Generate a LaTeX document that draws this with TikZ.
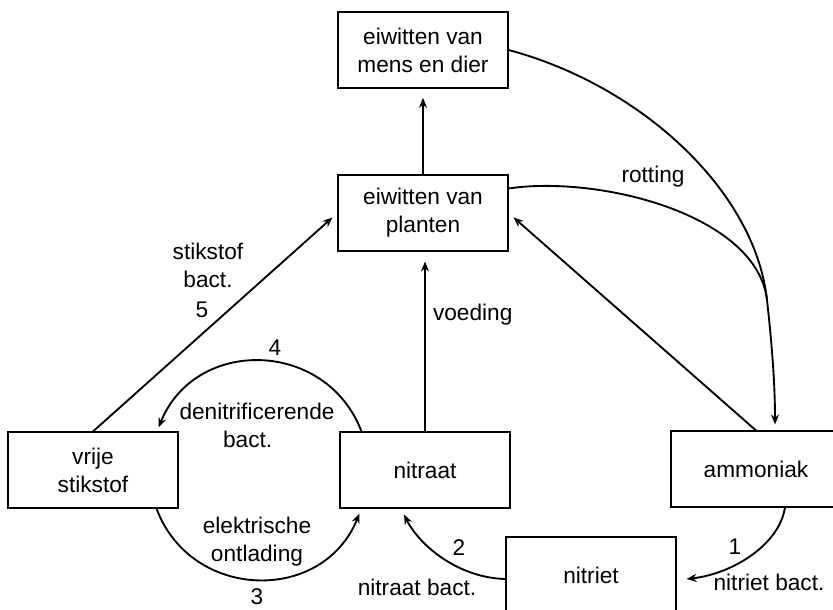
\documentclass[tikz,border=0pt]{standalone}
\usepackage{fontspec}
\setmainfont{Liberation Sans}
\usetikzlibrary{arrows.meta,calc}
\begin{document}
\begin{tikzpicture}[x=0.75pt,y=-0.75pt,line width=1.4pt,
>={Stealth[length=7.5pt,width=6pt,inset=2.5pt]}]
\tikzstyle{every node}=[font=\fontsize{17}{21}\selectfont,align=center]
\tikzstyle{box}=[draw,line width=0.8pt,minimum width=127.5pt,minimum height=57pt]
\useasboundingbox (0,0) rectangle (833,610);

\node[box] (mens) at (423,50) {eiwitten van\\mens en dier};
\node[box] (planten) at (423,213) {eiwitten van\\planten};
\node[box] (vrij) at (93,470) {vrije\\stikstof};
\node[box] (nitraat) at (425,470) {nitraat};
\node[box] (ammoniak) at (756,469) {ammoniak};
\node[box] (nitriet) at (591,575) {nitriet};

\draw[->,shorten >=7pt] (planten.north) -- (mens.south);
\draw[->,shorten >=7.5pt] (nitraat.north) -- (nitraat.north |- planten.south)
    node[pos=0.65,right=2pt] (voeding) {voeding};

% stikstof bact.
\draw[->,shorten >=5pt] (vrij.north) -- (planten.west);
\node (stikstofbact) at (208,265) {stikstof\\bact.};
\node (vijf) at (202,310) {5};

\draw[->,shorten >=5pt] (ammoniak.north) -- (planten.east);

% rotting
\coordinate (samen) at (767,300);
\draw (mens.east) .. controls (640,85) and (755,190) .. (samen);
\draw ($(planten.north east)+(0,14)$) .. controls (600,175) and (757,215) .. (samen);
\draw[->] (samen) .. controls +(5,45) and +(0,-40) .. ($(ammoniak.north)+(19,-6)$);
\node (rotting) at (653,177) {rotting};

% 4
\draw[->] ($(nitraat.north west)+(22,0)$) .. controls +(-35,-92) and +(37,-91) .. ($(vrij.north east)+(-20,-4)$);
\node (vier) at (275,348) {4};
\node (denitri) at (257,425) {denitrificerende\\bact.\hspace*{14pt}};

% 3
\draw[->] ($(vrij.south east)+(-22,0)$) .. controls +(34,92) and +(-37,91) .. ($(nitraat.south west)+(20,5)$);
\node (elektrisch) at (257,542) {elektrische\\ontlading};
\node (drie) at (257,597) {3};

% 2
\draw[->] ($(nitriet.west)+(0,4)$) .. controls +(-46,-1) and +(16,32) .. ($(nitraat.south)+(-21,6)$);
\node (twee) at (459,548) {2};
\node (nitraatbact) at (417,587) {nitraat bact.};

% 1
\draw[->] ($(ammoniak.south)+(29,0)$) .. controls +(-6,38) and +(45,-5) .. ($(nitriet.east)+(10,4)$);
\node (een) at (735,547) {1};
\node (nitrietbact) at (769,582) {nitriet bact.};

\end{tikzpicture}
\end{document}
